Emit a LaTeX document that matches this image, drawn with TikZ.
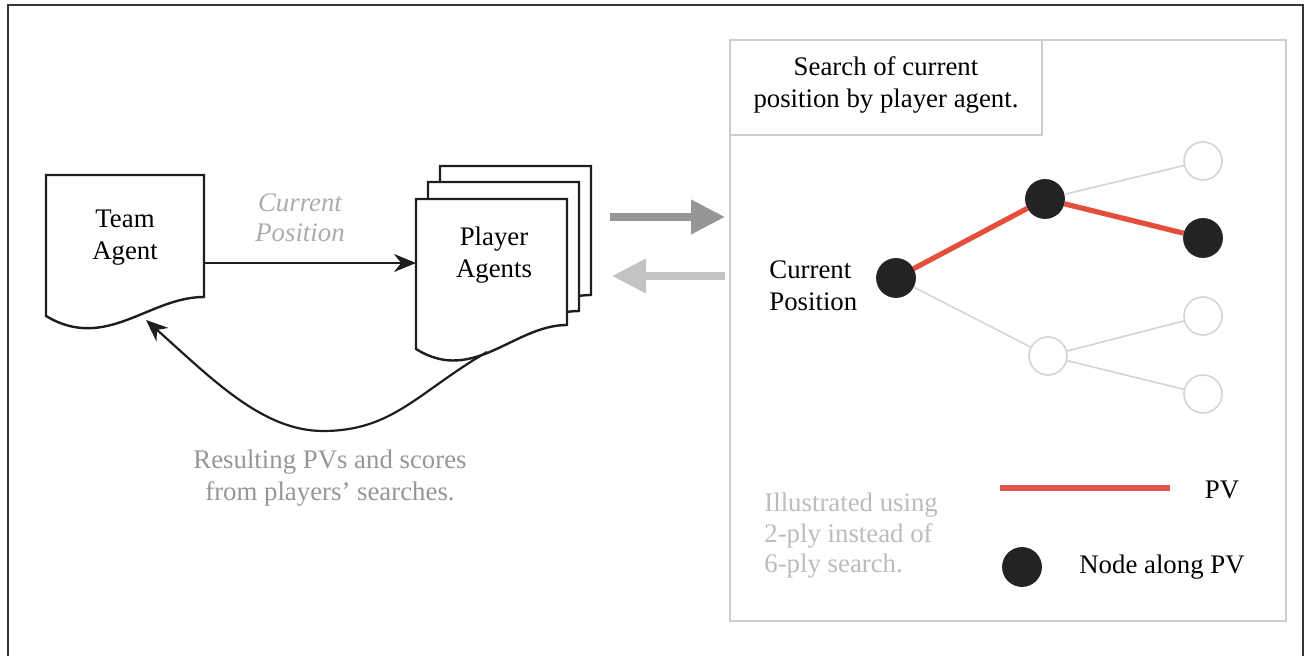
\documentclass[tikz,border=0pt]{standalone}
\usepackage{fontspec}
\setmainfont{Liberation Serif}
\usetikzlibrary{arrows.meta}

\definecolor{ink}{RGB}{30,30,30}
\definecolor{framegray}{RGB}{55,55,55}
\definecolor{panelgray}{RGB}{205,205,205}
\definecolor{edgegray}{RGB}{212,212,212}
\definecolor{pvred}{RGB}{228,78,58}
\definecolor{keyred}{RGB}{225,88,76}
\definecolor{dotblack}{RGB}{35,35,35}
\definecolor{sendgray}{RGB}{150,150,150}
\definecolor{backgray}{RGB}{195,195,195}
\definecolor{labelgray}{RGB}{172,172,172}
\definecolor{notegray}{RGB}{150,150,150}
\definecolor{hintgray}{RGB}{188,188,188}

% document-shaped box: style, left, top, right, right-bottom y, left-bottom y
\newcommand{\docbox}[6]{%
  \draw[#1] (#2,#3) -- (#4,#3) -- (#4,#5)
    .. controls ({#4-0.35*(#4-#2)},#5) and ({#2+0.38*(#4-#2)},{#6+36}) .. (#2,#6) -- cycle;}

\begin{document}
\begin{tikzpicture}[x=0.5pt,y=-0.5pt,
  txt/.style={inner sep=0pt, font=\fontsize{13.4}{16}\selectfont, align=center},
  doc/.style={draw=ink, line width=1.2pt, fill=white},
  frameline/.style={draw=framegray, line width=1.4pt},
  panel/.style={draw=panelgray, line width=1pt},
  blacknode/.style={circle, fill=dotblack, draw=dotblack, minimum size=19.5pt, inner sep=0pt},
  opennode/.style={circle, fill=white, draw=edgegray, line width=0.8pt, minimum size=19pt, inner sep=0pt},
  pvedge/.style={draw=pvred, line width=2.6pt},
  faintedge/.style={draw=edgegray, line width=0.8pt},
  darkarrow/.style={draw=ink, line width=1.1pt, -{Stealth[length=11pt,width=9pt]}},
  bigarrow/.style={line width=3.6pt, -{Triangle[length=17pt,width=16.5pt]}}
]
\useasboundingbox (0,0) rectangle (1308,656);

% outer frame
\draw[frameline] (8,656) -- (8,5) -- (1303,5) -- (1303,656);

% team agent
\docbox{doc}{46}{175}{204}{297}{316}
\node[txt] (team) at (125,238) {Team\\Agent};

% stack of player agents
\docbox{doc}{440}{166}{591}{295}{316}
\docbox{doc}{428}{182}{579}{311}{332}
\docbox{doc}{416}{199}{567}{325}{349}
\node[txt] (players) at (494,255) {Player\\Agents};

% current position sent to the players
\coordinate (teamOut) at (204,263);
\coordinate (playersIn) at (416,263);
\draw[darkarrow] (teamOut) -- (playersIn);
\node[txt, text=labelgray, font=\fontsize{13.4}{15}\itshape] (sendlabel) at (300,218) {Current\\Position};

% results returned to the team agent
\coordinate (playersOut) at (487,352);
\coordinate (loopLow) at (323,431);
\coordinate (teamIn) at (146,320);
\draw[darkarrow] (playersOut) .. controls (418,392) and (393,431) .. (loopLow)
  .. controls (263,431) and (213,380) .. (teamIn);
\node[txt, text=notegray] (results) at (330,478) {Resulting PVs and scores\\from players' searches.};

% exchange with the search panel
\coordinate (toPanelA) at (610,217);
\coordinate (toPanelB) at (725,217);
\coordinate (fromPanelA) at (725,276);
\coordinate (fromPanelB) at (612,276);
\draw[bigarrow, sendgray] (toPanelA) -- (toPanelB);
\draw[bigarrow, backgray] (fromPanelA) -- (fromPanelB);

% search panel
\draw[panel] (730,40) rectangle (1286,621);
\draw[panel] (730,40) rectangle (1042,135);
\node[txt] (title) at (886,85) {Search of current\\position by player agent.};

% search tree
\node[blacknode] (root) at (896,278) {};
\node[blacknode] (m1) at (1045,199) {};
\node[opennode] (m2) at (1048,356) {};
\node[opennode] (l1) at (1203,161) {};
\node[blacknode] (l2) at (1203,238) {};
\node[opennode] (l3) at (1203,316) {};
\node[opennode] (l4) at (1203,394) {};
\draw[faintedge] (m1) -- (l1);
\draw[faintedge] (root) -- (m2);
\draw[faintedge] (m2) -- (l3);
\draw[faintedge] (m2) -- (l4);
\draw[pvedge] (root) -- (m1);
\draw[pvedge] (m1) -- (l2);
\node[txt, align=left, anchor=west] (rootlabel) at (769,286) {Current\\Position};

% key
\coordinate (keyA) at (1000,488);
\coordinate (keyB) at (1170,488);
\draw[draw=keyred, line width=3pt] (keyA) -- (keyB);
\node[txt] (pvkey) at (1222,490) {PV};
\node[blacknode] (dotkey) at (1022,567) {};
\node[txt] (nodekey) at (1162,567) {Node along PV};
\node[txt, align=left, anchor=west, text=hintgray, font=\fontsize{13.4}{15.3}\selectfont] (hint) at (764,536) {Illustrated using\\2-ply instead of\\6-ply search.};
\end{tikzpicture}
\end{document}
